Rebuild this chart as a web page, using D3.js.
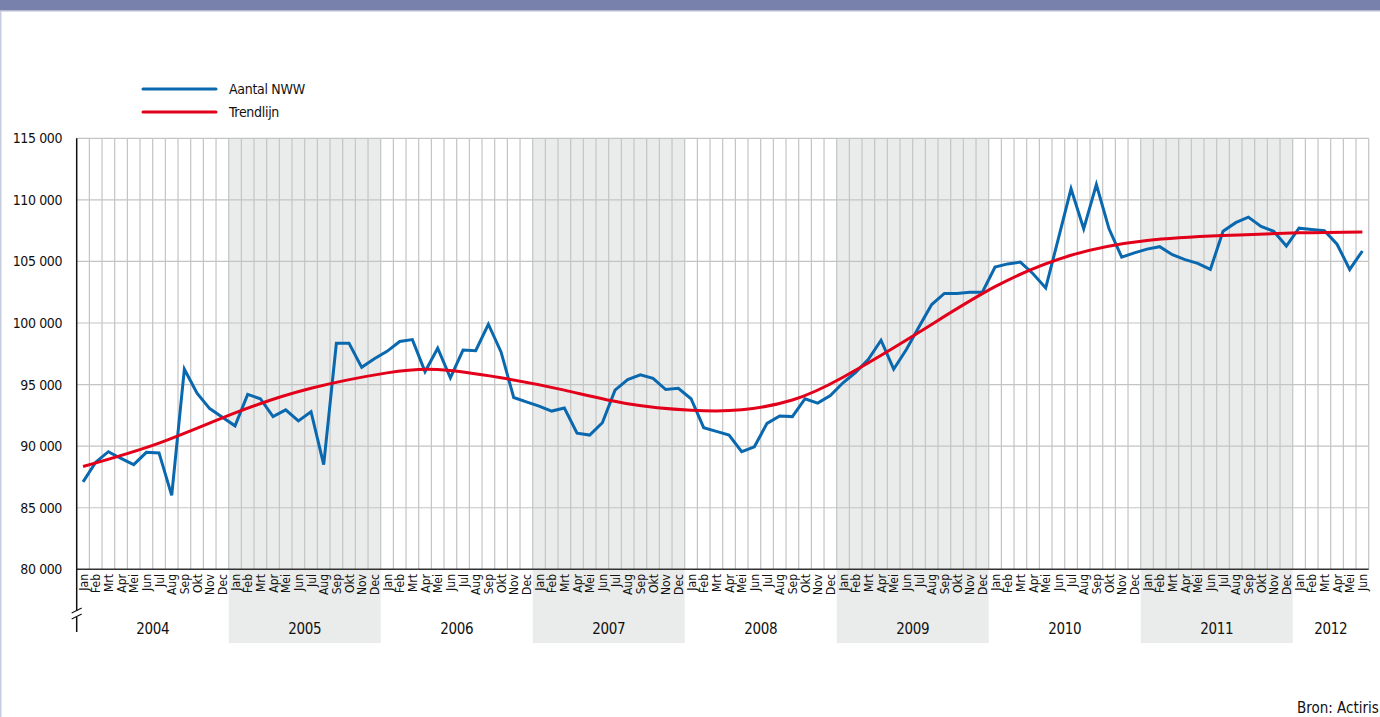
<!DOCTYPE html>
<html>
<head>
<meta charset="UTF-8">
<title>Aantal NWW</title>
<script src="https://cdnjs.cloudflare.com/ajax/libs/d3/7.8.5/d3.min.js"></script>
<style>
html, body { margin: 0; padding: 0; background: #fff; }
svg { display: block; font-family: "Liberation Sans Narrow", "DejaVu Sans Condensed", "Roboto", sans-serif; }
</style>
</head>
<body>
<script>
// maanden en jaren
var months = ["Jan","Feb","Mrt","Apr","Mei","Jun","Jul","Aug","Sep","Okt","Nov","Dec"];
var years = [2004, 2005, 2006, 2007, 2008, 2009, 2010, 2011, 2012];
var shadedYears = [2005, 2007, 2009, 2011];
var yTicks = [80000, 85000, 90000, 95000, 100000, 105000, 110000, 115000];

// Aantal NWW, jan 2004 - jun 2012 (gelezen uit de grafiek)
var nww = [
  87100, 88700, 89550, 89000, 88500, 89500, 89450, 86000, 96250, 94300, 93050, 92350,
  91650, 94200, 93850, 92400, 92950, 92050, 92800, 88500, 98350, 98350, 96400, 97100,
  97700, 98500, 98650, 96050, 97950, 95550, 97800, 97750, 99900, 97650, 93950, 93600,
  93250, 92850, 93100, 91050, 90900, 91900, 94550, 95400, 95800, 95500, 94600, 94700,
  93850, 91500, 91200, 90900, 89550, 89950, 91850, 92450, 92400, 93850, 93500, 94100,
  95150, 96000, 97050, 98600, 96250, 97850, 99700, 101500, 102400, 102400, 102500, 102500,
  104550, 104800, 104950, 104000, 102850, 106850, 110900, 107650, 111250, 107650, 105350, 105700,
  106000, 106200, 105550, 105150, 104850, 104350, 107450, 108150, 108600, 107850, 107450, 106250,
  107700, 107600, 107500, 106400, 104350, 105850
];

// trendlijn: steunpunten (maandindex, waarde)
var trendIdx = [0, 6, 12, 18, 24, 28, 33, 38, 43, 48, 52, 56, 60, 66, 72, 78, 84, 90, 96, 101];
var trendVal = [88350, 90250, 92700, 94700, 95950, 96220, 95550, 94550, 93450, 92920, 92950, 93750, 95600, 99250, 102950, 105500, 106700, 107100, 107320, 107400];

var W = 1380, H = 717;
var svg = d3.select("body").append("svg")
    .attr("width", W)
    .attr("height", H);

var nMonths = nww.length;
var x = d3.scaleLinear().domain([0, nMonths]).range([76.7, 1368.7]);
var y = d3.scaleLinear().domain([80000, 115000]).range([569.3, 138.3]);
var yearX = function(yr) { return x((yr - 2004) * 12); };
var yearEnd = function(yr) { return Math.min(yearX(yr + 1), x(nMonths)); };

// kader
svg.append("rect").attr("x", 0).attr("y", 0).attr("width", W).attr("height", 10).attr("fill", "#7781ab");
svg.append("rect").attr("x", 0).attr("y", 10).attr("width", W).attr("height", 1.5).attr("fill", "#b6bad3");
svg.append("rect").attr("x", 0).attr("y", 11).attr("width", 1.5).attr("height", H).attr("fill", "#c8cce0");

// grijze jaren
svg.append("g").selectAll("rect")
  .data(shadedYears)
  .join("rect")
    .attr("x", function(d) { return yearX(d); })
    .attr("y", y(115000))
    .attr("width", function(d) { return yearEnd(d) - yearX(d); })
    .attr("height", 643 - y(115000))
    .attr("fill", "#eaeceb");

// verticale rasterlijnen
svg.append("g").selectAll("line")
  .data(d3.range(1, nMonths + 1))
  .join("line")
    .attr("x1", function(d) { return x(d); })
    .attr("x2", function(d) { return x(d); })
    .attr("y1", y(115000))
    .attr("y2", y(80000))
    .attr("stroke", "#c4c4c4")
    .attr("stroke-width", 1.2);

// horizontale rasterlijnen
svg.append("g").selectAll("line")
  .data(yTicks.slice(1))
  .join("line")
    .attr("x1", x(0))
    .attr("x2", x(nMonths))
    .attr("y1", function(d) { return y(d); })
    .attr("y2", function(d) { return y(d); })
    .attr("stroke", "#c4c4c4")
    .attr("stroke-width", 1.2);

// y-as labels
svg.append("g").selectAll("text")
  .data(yTicks)
  .join("text")
    .attr("x", 62)
    .attr("y", function(d) { return y(d) + 5; })
    .attr("text-anchor", "end")
    .attr("font-size", 14)
    .attr("letter-spacing", -0.4)
    .attr("fill", "#111")
    .text(function(d) { return d3.format(",")(d).replace(",", " "); });

// assen
svg.append("line")
    .attr("x1", x(0)).attr("x2", x(nMonths))
    .attr("y1", y(80000)).attr("y2", y(80000))
    .attr("stroke", "#333").attr("stroke-width", 1.5);
svg.append("line")
    .attr("x1", x(0)).attr("x2", x(0))
    .attr("y1", y(115000)).attr("y2", 632)
    .attr("stroke", "#111").attr("stroke-width", 1.5);
// asonderbreking
svg.append("rect").attr("x", x(0) - 2).attr("y", 611).attr("width", 4).attr("height", 6).attr("fill", "#fff");
svg.append("line").attr("x1", x(0) - 5).attr("y1", 613).attr("x2", x(0) + 5).attr("y2", 608).attr("stroke", "#111").attr("stroke-width", 1.2);
svg.append("line").attr("x1", x(0) - 5).attr("y1", 619).attr("x2", x(0) + 5).attr("y2", 614).attr("stroke", "#111").attr("stroke-width", 1.2);

// maandlabels
svg.append("g").selectAll("text")
  .data(d3.range(nMonths))
  .join("text")
    .attr("transform", function(d) { return "translate(" + (x(d + 0.5) + 4.5) + ",574) rotate(-90)"; })
    .attr("text-anchor", "end")
    .attr("font-size", 12)
    .attr("fill", "#111")
    .text(function(d) { return months[d % 12]; });

// jaarlabels
svg.append("g").selectAll("text")
  .data(years)
  .join("text")
    .attr("x", function(d) { return (yearX(d) + yearEnd(d)) / 2; })
    .attr("y", 634)
    .attr("text-anchor", "middle")
    .attr("font-size", 15)
    .attr("letter-spacing", -0.3)
    .attr("fill", "#111")
    .text(function(d) { return d; });

// lijnen
var line = d3.line()
    .x(function(d, i) { return x(i + 0.5); })
    .y(function(d) { return y(d); });

svg.append("path")
    .datum(nww)
    .attr("d", line)
    .attr("fill", "none")
    .attr("stroke", "#0a68ae")
    .attr("stroke-width", 3);

var trendLine = d3.line()
    .x(function(d) { return x(d[0] + 0.5); })
    .y(function(d) { return y(d[1]); })
    .curve(d3.curveNatural);

svg.append("path")
    .datum(d3.zip(trendIdx, trendVal))
    .attr("d", trendLine)
    .attr("fill", "none")
    .attr("stroke", "#e2001a")
    .attr("stroke-width", 3);

// legenda
var legend = [["Aantal NWW", "#0a68ae"], ["Trendlijn", "#e2001a"]];
var lg = svg.append("g").selectAll("g")
  .data(legend)
  .join("g")
    .attr("transform", function(d, i) { return "translate(143," + (89 + i * 23) + ")"; });
lg.append("line")
    .attr("x1", 0).attr("x2", 73)
    .attr("stroke", function(d) { return d[1]; })
    .attr("stroke-width", 3)
    .attr("stroke-linecap", "round");
lg.append("text")
    .attr("x", 86)
    .attr("y", 5)
    .attr("font-size", 14)
    .attr("letter-spacing", -0.3)
    .attr("fill", "#111")
    .text(function(d) { return d[0]; });

// bron
svg.append("text")
    .attr("x", 1297)
    .attr("y", 713)
    .attr("font-size", 15)
    .attr("fill", "#111")
    .text("Bron: Actiris");
</script>
</body>
</html>
